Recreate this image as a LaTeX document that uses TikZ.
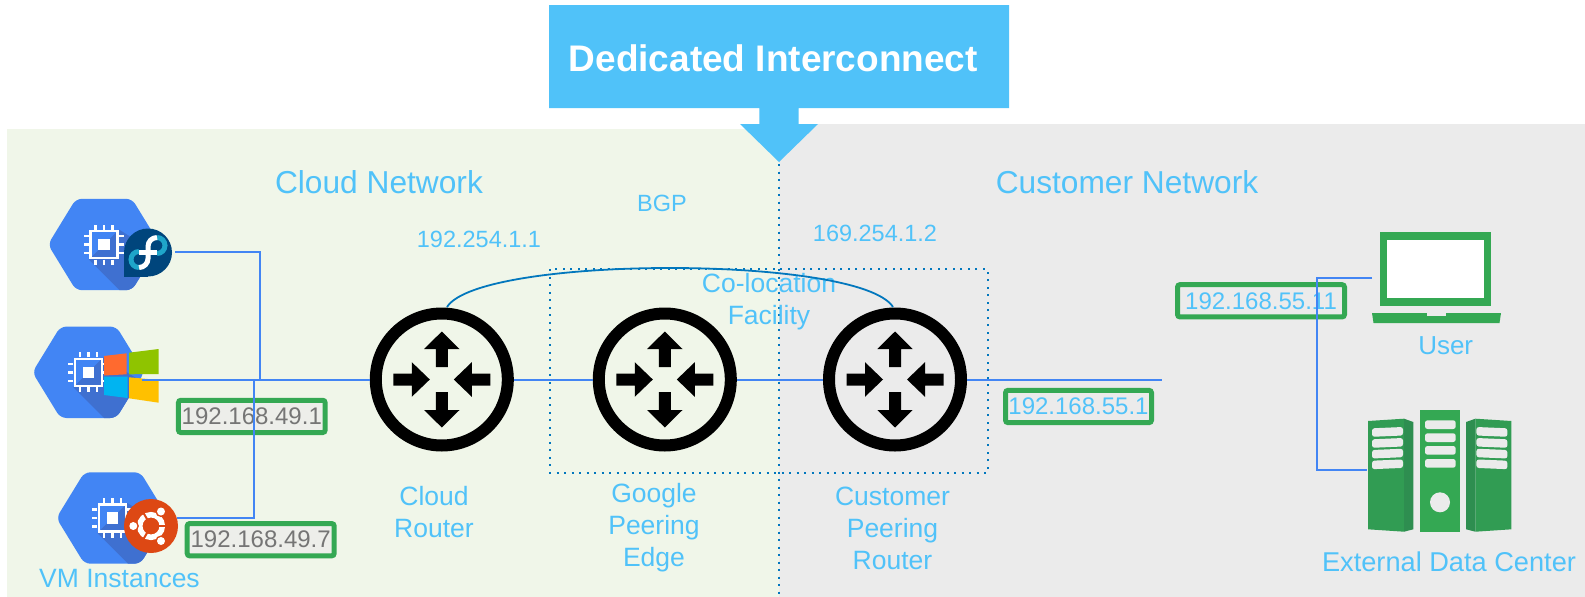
\documentclass[tikz,border=0pt]{standalone}
\usepackage{fontspec}
\setmainfont{Liberation Sans}
\definecolor{bggreen}{HTML}{F0F6E9}
\definecolor{bggray}{HTML}{EBEBEB}
\definecolor{sky}{HTML}{50C2F9}
\definecolor{wire}{HTML}{4285F4}
\definecolor{bgpc}{HTML}{0277BD}
\definecolor{gcp}{HTML}{4285F4}
\definecolor{gcpd}{HTML}{3F70D0}
\definecolor{gg}{HTML}{34A853}
\definecolor{ggm}{HTML}{319C53}
\definecolor{ggd}{HTML}{2E8E50}
\definecolor{iptext}{HTML}{757575}
\definecolor{ipfill}{HTML}{EDEEEA}
\definecolor{fedora}{HTML}{00457C}
\definecolor{fedcy}{HTML}{1FA5C9}
\definecolor{ubu}{HTML}{DD4814}
\definecolor{winr}{HTML}{FF6A2F}
\definecolor{wing}{HTML}{8FC400}
\definecolor{winb}{HTML}{00B4F1}
\definecolor{winy}{HTML}{FFC000}
\tikzset{
  lbl/.style={text=sky,inner sep=0pt,anchor=base,font=\fontsize{#1}{#1}\selectfont},
  lbl/.default=26.5,
  mlbl/.style={text=sky,inner sep=0pt,align=center,font=\fontsize{26.5}{32}\selectfont},
  ipbox/.style={draw=gg,line width=5pt,rounded corners=2.5pt,inner sep=0pt,minimum height=32.3pt,font=\fontsize{24}{24}\selectfont},
  router/.style={circle,draw=black,line width=12pt,minimum size=132pt,inner sep=0pt},
  wireline/.style={draw=wire,line width=2pt},
  dots/.style={draw=bgpc,line width=2pt,dash pattern=on 2pt off 5.5pt},
}
% router arrows
\newcommand{\routerarrows}[2]{%
  \begin{scope}[shift={(#1,#2)}]
    \fill (-6,-12.5)--(-6,-30.5)--(-17.7,-30.5)--(0,-48)--(17.7,-30.5)--(6,-30.5)--(6,-12.5)--cycle;
    \fill (-6,12.5)--(-6,30.5)--(-17.7,30.5)--(0,48)--(17.7,30.5)--(6,30.5)--(6,12.5)--cycle;
    \fill (-48.5,-6)--(-30,-6)--(-30,-17.3)--(-12,0)--(-30,17.3)--(-30,6)--(-48.5,6)--cycle;
    \fill (48.5,-6)--(30,-6)--(30,-17.3)--(12,0)--(30,17.3)--(30,6)--(48.5,6)--cycle;
  \end{scope}}
% VM hexagon with chip
\newcommand{\vmhex}[2]{%
  \begin{scope}[shift={(#1,#2)}]
    \begin{scope}
      \clip[rounded corners=6pt] (-56,0)--(-28,-45.7)--(28,-45.7)--(56,0)--(28,45.7)--(-28,45.7)--cycle;
      \fill[gcp] (-60,-50) rectangle (60,50);
      \fill[gcpd] (-15,15)--(20,50)--(70,50)--(70,20)--(15,-15)--cycle;
    \end{scope}
    \draw[white,line width=2.6pt] (-13.5,-13.5) rectangle (13.5,13.5);
    \fill[white] (-5.7,-5.7) rectangle (5.7,5.7);
    \foreach \o in {-8.5,0,8.5}{
      \draw[white,line width=2.6pt] (\o,-15)--(\o,-20);
      \draw[white,line width=2.6pt] (\o,15)--(\o,20);
      \draw[white,line width=2.6pt] (-15,\o)--(-20,\o);
      \draw[white,line width=2.6pt] (15,\o)--(20,\o);
    }
  \end{scope}}
% one side cabinet of the data centre
\newcommand{\cabinet}{%
  \fill[ggm] (1368,421)--(1404,418.7)--(1404,531.7)--(1368,529.3)--cycle;
  \fill[ggd] (1404,418.7)--(1413.3,422)--(1413.3,529.3)--(1404,531.7)--cycle;
  \foreach \y in {428.3,439.3,450,460.7}{
    \fill[bggray,rounded corners=2.5pt] (1372,\y)--(1403,\y-1.3)--(1403,\y+7.2)--(1372,\y+8.5)--cycle;
  }}
\begin{document}
\begin{tikzpicture}[x=1pt,y=-1pt]
\useasboundingbox (0,0) rectangle (1585,597);
\fill[white] (0,0) rectangle (1585,597);
% panels
\fill[bggreen] (7,129) rectangle (779,597);
\fill[bggray] (779,124) rectangle (1585,597);
% callout
\fill[sky] (549,5)--(1009,5)--(1009,108)--(798.7,108)--(798.7,124)--(818,124)--(779,162)--(740,124)--(759.3,124)--(759.3,108)--(549,108)--cycle;
\node[text=white,inner sep=0pt,font=\fontsize{37}{37}\selectfont\bfseries] (title) at (773.3,58) {Dedicated Interconnect};
% dotted
\draw[dots] (779,164)--(779,597);
\draw[dots] (550,269.3) rectangle (987.6,472.7);
% headings
\node[lbl=31.7] (cloudnet) at (379,193.5) {Cloud Network};
\node[lbl=31.7] (custnet) at (1127,193.5) {Customer Network};
\node[lbl=23.5] (bgp) at (662,211.5) {BGP};
\node[lbl=23.5] (ipa) at (479,247.5) {192.254.1.1};
\node[lbl=23.5] (ipb) at (875,241.5) {169.254.1.2};
\node[mlbl] (coloc) at (769,301.5) {Co-location\\Facility};
% routers
\node[router] (r1) at (441.8,379.5) {};
\node[router] (r2) at (664.8,379.5) {};
\node[router] (r3) at (895,379.5) {};
\routerarrows{441.8}{379.5}
\routerarrows{664.8}{379.5}
\routerarrows{895}{379.5}
\node[mlbl] (l1) at (434,512) {Cloud\\Router};
\node[mlbl] (l2) at (654,528) {Google\\Peering\\Edge};
\node[mlbl] (l3) at (892.5,528) {Customer\\Peering\\Router};
% VM icons
\vmhex{104}{244.5}
\vmhex{88.4}{372.3}
\vmhex{112.4}{518}
% fedora
\begin{scope}[shift={(148,252.5)}]
  \fill[fedora] (0,0) circle (24);
  \fill[fedora] (-24,0) rectangle (0,24);
  \draw[fedcy,line width=5pt] (9,-15) .. controls (13.4,-15) and (17,-11.4) .. (17,-7) .. controls (17,-2.6) and (13.4,1) .. (9,1);
  \draw[fedcy,line width=5pt] (-9,-1) .. controls (-13.4,-1) and (-17,2.6) .. (-17,7) .. controls (-17,11.4) and (-13.4,15) .. (-9,15);
  \draw[white,line width=5pt] (9,-15) .. controls (4,-15) and (0,-11) .. (0,-6) -- (0,6) .. controls (0,11) and (-4,15) .. (-9,15);
  \draw[white,line width=5pt] (-9,0) -- (9,0);
\end{scope}
% windows
\fill[winr] (104,356)--(126.7,353.3)--(126.7,374.3)--(104,375.5)--cycle;
\fill[wing] (129,352.7)--(158.7,349)--(158.7,374)--(129,374.3)--cycle;
\fill[winb] (104,376.7)--(127.5,376.7)--(127.5,398)--(104,395)--cycle;
\fill[winy] (129,377.3)--(158.7,380)--(158.7,402.7)--(129,398.3)--cycle;
% ubuntu
\begin{scope}[shift={(151,526)}]
  \fill[ubu] (0,0) circle (27);
  \draw[white,line width=5.5pt] (0,0) circle (11.3);
  \draw[ubu,line width=2pt] (7,0)--(16,0);
  \draw[ubu,line width=2pt] (-3.5,-6.06)--(-8,-13.9);
  \draw[ubu,line width=2pt] (-3.5,6.06)--(-8,13.9);
  \foreach \p/\q in {10/-14.5,-17.7/0,10/15}{
    \fill[ubu] (\p,\q) circle (5.6);
    \fill[white] (\p,\q) circle (4);
  }
\end{scope}
\node[lbl=26.5] (vm) at (119.5,587) {VM Instances};
% ip boxes
\node[ipbox,fill=ipfill,text=iptext,minimum width=146.7pt] (ip1) at (251.8,416.4) {192.168.49.1};
\node[ipbox,fill=ipfill,text=iptext,minimum width=147pt] (ip7) at (260.7,539.7) {192.168.49.7};
\node[ipbox,text=sky,minimum width=146pt] (ip51) at (1078.5,406.5) {192.168.55.1};
\node[ipbox,text=sky,minimum width=167pt] (ip511) at (1261,300.8) {192.168.55.11};
% laptop
\fill[gg] (1380,232) rectangle (1491,306);
\fill[white] (1387.3,240.3) rectangle (1484.3,298);
\fill[gg] (1372,313)--(1501,313)--(1499.5,323)--(1373.5,323)--cycle;
\fill[bggray] (1426.7,313) rectangle (1446,316);
\node[lbl=26] (user) at (1445.7,354.5) {User};
% servers
\cabinet
\begin{scope}[shift={(2879.4,0)},xscale=-1]\cabinet\end{scope}
\fill[gg] (1420,410) rectangle (1460,531.7);
\foreach \y in {420.3,433.3,446,459}{
  \fill[bggray,rounded corners=2.5pt] (1425,\y) rectangle (1455.7,\y+8.7);
}
\fill[bggray] (1440,502.3) circle (10);
\node[lbl=27.2] (edc) at (1449,571.5) {External Data Center};
% connectors
\coordinate (pf) at (175,252);
\coordinate (pw) at (142,379.5);
\coordinate (pu) at (176.7,517.7);
\coordinate (jf) at (260,379.5);
\coordinate (ju) at (254.3,379.5);
\coordinate (rend) at (1162,379.5);
\coordinate (plap) at (1372,277.7);
\coordinate (psrv) at (1366.7,470);
\coordinate (bust) at (1316.7,277.7);
\coordinate (busb) at (1316.7,470);
\draw[wireline] (pw) -- (r1);
\draw[wireline] (pf) -| (jf);
\draw[wireline] (pu) -| (ju);
\draw[wireline] (r1) -- (r2);
\draw[wireline] (r2) -- (r3);
\draw[wireline] (r3) -- (rend);
\draw[wireline] (plap) -- (bust) -- (busb) -- (psrv);
% BGP arc
\draw[bgpc,line width=1.8pt] (447,307) .. controls (480,255) and (860,255) .. (893,307);
\end{tikzpicture}
\end{document}
